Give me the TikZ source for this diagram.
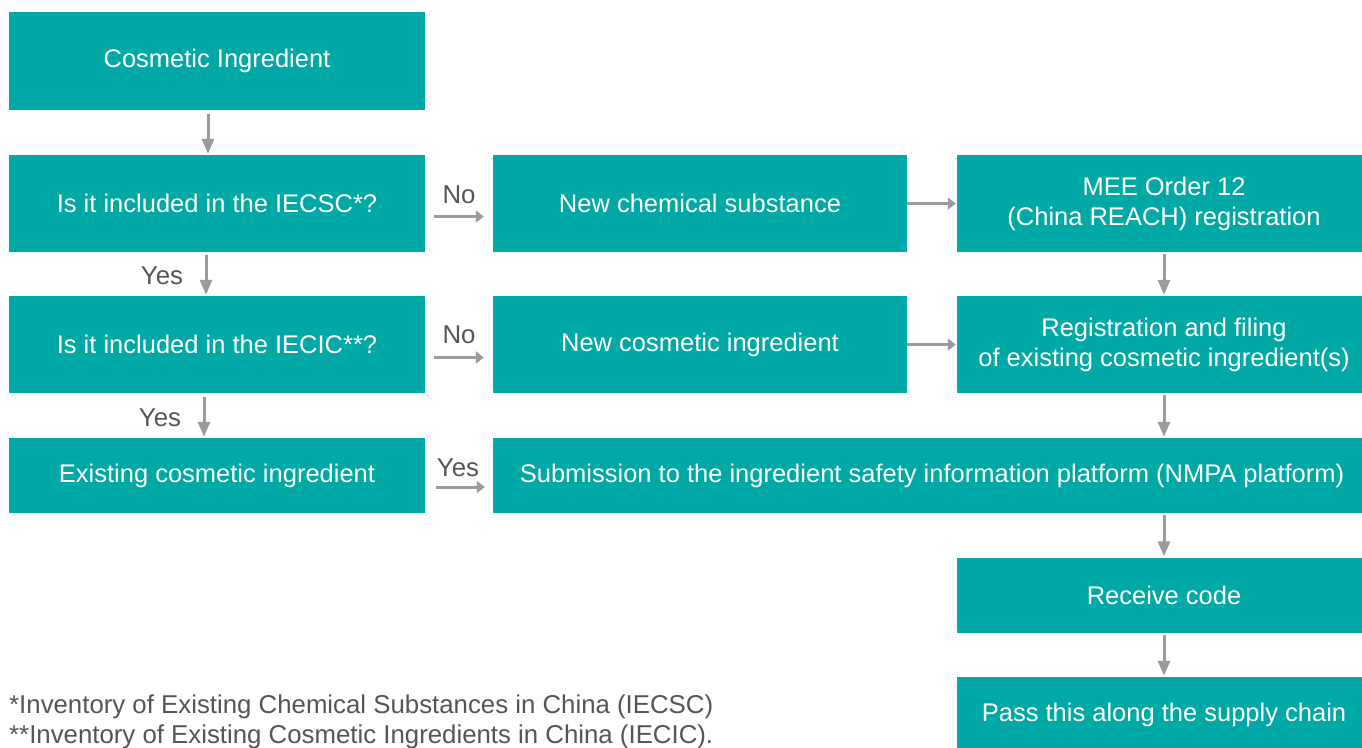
\documentclass[tikz,border=0pt]{standalone}
\usepackage{xcolor}
\usepackage{fontspec}
\setmainfont{Liberation Sans}
\usepackage{tikz}
\usetikzlibrary{calc,arrows.meta,positioning}
\definecolor{boxteal}{RGB}{0,169,165}
\definecolor{arrowgray}{RGB}{155,155,155}
\definecolor{labelgray}{RGB}{85,85,85}
\newcommand{\boxfont}{\fontsize{25.5}{30}\selectfont}
\newcommand{\notefont}{\fontsize{25.8}{30}\selectfont}

\begin{document}
\begin{tikzpicture}[x=1pt, y=-1pt,
    flowbox/.style={rectangle, fill=boxteal, text=white, inner sep=0pt,
      align=center, font=\boxfont},
    downarrow/.style={arrowgray, line width=3pt, -{Triangle[length=15pt,width=12pt]}},
    sidearrow/.style={arrowgray, line width=3pt, -{Triangle[length=8pt,width=12pt]}},
    answer/.style={labelgray, font=\notefont, inner sep=0pt},
    footnote/.style={labelgray, font=\notefont, inner sep=0pt, anchor=base west}]
      \useasboundingbox (0,0) rectangle (1362,747);

      % --- left column: questions ---
      \node[flowbox, minimum width=416, minimum height=98] (ingr) at (217, 61) {Cosmetic Ingredient};
      \node[flowbox, minimum width=416, minimum height=97] (iecsc) at (217, 203.5) {Is it included in the IECSC*?};
      \node[flowbox, minimum width=416, minimum height=97] (iecic) at (217, 344.5) {Is it included in the IECIC**?};
      \node[flowbox, minimum width=416, minimum height=75] (existing) at (217, 475.5) {Existing cosmetic ingredient};

      % --- middle column ---
      \node[flowbox, minimum width=414, minimum height=97] (newchem) at (700, 203.5) {New chemical substance};
      \node[flowbox, minimum width=414, minimum height=97] (newcos) at (700, 344.5) {New cosmetic ingredient};
      \node[flowbox, minimum width=878, minimum height=75] (submit) at (932, 475.5)
        {Submission to the ingredient safety information platform (NMPA platform)};

      % --- right column (runs past the page edge) ---
      \node[flowbox, minimum width=414, minimum height=97] (mee) at (1164, 203.5)
        {MEE Order 12\\(China REACH) registration};
      \node[flowbox, minimum width=414, minimum height=97] (regfil) at (1164, 344.5)
        {Registration and filing\\of existing cosmetic ingredient(s)};
      \node[flowbox, minimum width=414, minimum height=75] (receive) at (1164, 595) {Receive code};
      \node[flowbox, minimum width=414, minimum height=75] (pass) at (1164, 714.5) {Pass this along the supply chain};

      % vertical arrows, left column
      \draw[downarrow, shorten <=4pt, shorten >=1pt] ([xshift=-9pt]ingr.south) -- ([xshift=-9pt]iecsc.north);
      \draw[downarrow, shorten <=3pt, shorten >=1pt] ([xshift=-11pt]iecsc.south) -- ([xshift=-11pt]iecic.north);
      \draw[downarrow, shorten <=4pt, shorten >=1pt] ([xshift=-13pt]iecic.south) -- ([xshift=-13pt]existing.north);
      \node[answer] (yesA) at (162, 276) {Yes};
      \node[answer] (yesB) at (160, 418) {Yes};

      % side arrows with answers
      \draw[sidearrow, shorten <=9pt, shorten >=9pt] ([yshift=-13pt]iecsc.east) -- ([yshift=-13pt]newchem.west);
      \node[answer] (noA) at (459, 195) {No};
      \draw[sidearrow, shorten <=9pt, shorten >=9pt] ([yshift=-13pt]iecic.east) -- ([yshift=-13pt]newcos.west);
      \node[answer] (noB) at (459, 335) {No};
      \draw[sidearrow, shorten <=11pt, shorten >=8pt] ([yshift=-11.5pt]existing.east) -- ([yshift=-11.5pt]submit.west);
      \node[answer] (yesC) at (458, 468) {Yes};

      % middle to right column
      \draw[sidearrow, shorten >=1pt] (newchem.east) -- (mee.west);
      \draw[sidearrow, shorten >=1pt] (newcos.east) -- (regfil.west);

      % vertical arrows, right column
      \draw[downarrow, shorten <=2pt, shorten >=1pt] (mee.south) -- (regfil.north);
      \draw[downarrow, shorten <=2pt, shorten >=1pt] (regfil.south) -- (submit.north -| regfil.south);
      \draw[downarrow, shorten <=2pt, shorten >=1pt] (submit.south -| receive.north) -- (receive.north);
      \draw[downarrow, shorten <=2pt, shorten >=1pt] (receive.south) -- (pass.north);

      % footnotes
      \node[footnote] (footA) at (9, 713) {*Inventory of Existing Chemical Substances in China (IECSC)};
      \node[footnote] (footB) at (9, 743) {**Inventory of Existing Cosmetic Ingredients in China (IECIC).};
    \end{tikzpicture}
\end{document}
